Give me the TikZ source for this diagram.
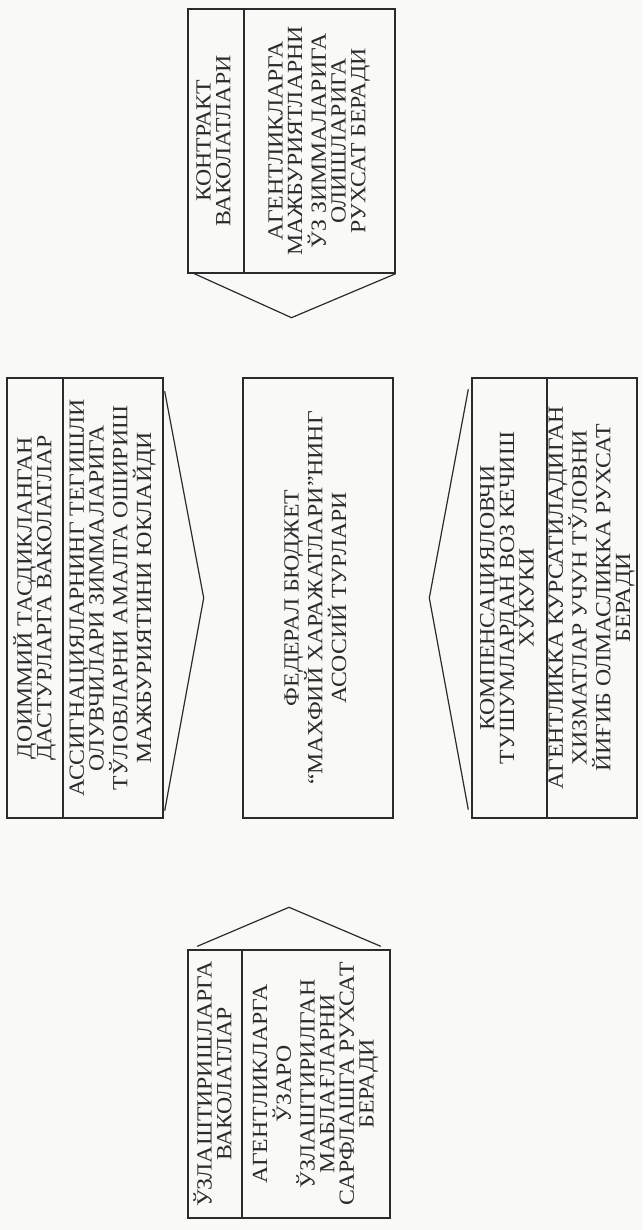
\documentclass[tikz,border=0pt]{standalone}
\usepackage{fontspec}
\setmainfont[FakeStretch=1.1]{Liberation Serif}
\usepackage{graphicx}
\usetikzlibrary{calc}
\definecolor{scanink}{HTML}{2B2B2B}
\definecolor{scanpaper}{HTML}{F9F9F8}

\newcommand{\vtext}[1]{\rotatebox{90}{\begin{tabular}{@{}c@{}}#1\end{tabular}}}

\begin{document}
\begin{tikzpicture}[x=0.5pt, y=0.5pt,
  cell/.style={draw=scanink, line width=0.7pt, inner sep=0pt, text=scanink,
    font=\fontsize{10.8}{9}\selectfont},
  chev/.style={draw=scanink, line width=0.6pt}]
  \fill[scanpaper] (0,0) rectangle (643,1230);
  \useasboundingbox (0,0) rectangle (643,1230);

  % top block
  \node[cell, minimum width=28pt, minimum height=132pt] (kontr1) at (216,1089) {\vtext{КОНТРАКТ\\ВАКОЛАТЛАРИ}};
  \node[cell, minimum width=75.5pt, minimum height=132pt] (kontr2) at (319.5,1089) {\vtext{АГЕНТЛИКЛАРГА\\МАЖБУРИЯТЛАРНИ\\ЎЗ ЗИММАЛАРИГА\\ОЛИШЛАРИГА\\РУХСАТ БЕРАДИ}};

  % middle row
  \node[cell, minimum width=28pt, minimum height=220pt] (doim1) at (35,632) {\vtext{ДОИММИЙ ТАСДИКЛАНГАН\\ДАСТУРЛАРГА ВАКОЛАТЛАР}};
  \node[cell, minimum width=50pt, minimum height=220pt] (doim2) at (113,632) {\vtext{АССИГНАЦИЯЛАРНИНГ ТЕГИШЛИ\\ОЛУВЧИЛАРИ ЗИММАЛАРИГА\\ТЎЛОВЛАРНИ АМАЛГА ОШИРИШ\\МАЖБУРИЯТИНИ ЮКЛАЙДИ}};
  \node[cell, minimum width=75pt, minimum height=220pt] (fed) at (318,632) {\vtext{ФЕДЕРАЛ БЮДЖЕТ\\“МАХФИЙ ХАРАЖАТЛАРИ”НИНГ\\АСОСИЙ ТУРЛАРИ}};
  \node[cell, minimum width=37.5pt, minimum height=220pt] (komp1) at (509.5,632) {\vtext{КОМПЕНСАЦИЯЛОВЧИ\\ТУШУМЛАРДАН ВОЗ КЕЧИШ\\ХУКУКИ}};
  \node[cell, minimum width=45pt, minimum height=220pt] (komp2) at (592,632) {\vtext{АГЕНТЛИККА КУРСАТИЛАДИГАН\\ХИЗМАТЛАР УЧУН ТЎЛОВНИ\\ЙИҒИБ ОЛМАСЛИККА РУХСАТ\\БЕРАДИ}};

  % bottom block
  \node[cell, minimum width=27pt, minimum height=134pt] (uzl1) at (215,146) {\vtext{ЎЗЛАШТИРИШЛАРГА\\ВАКОЛАТЛАР}};
  \node[cell, minimum width=74pt, minimum height=134pt] (uzl2) at (316,146) {\vtext{АГЕНТЛИКЛАРГА\\ЎЗАРО\\ЎЗЛАШТИРИЛГАН\\МАБЛАҒЛАРНИ\\САРФЛАШГА РУХСАТ\\БЕРАДИ}};

  % chevrons pointing at the centre box
  \draw[chev] ($(kontr1.south west)+(7,0)$) -- ($(kontr1.south west)!0.5!(kontr2.south east)+(0,-44)$) -- (kontr2.south east);
  \draw[chev] ($(doim2.north east)+(1,-14)$) -- ($(doim2.east)+(40,0)$) -- ($(doim2.south east)+(1,8)$);
  \draw[chev] ($(komp1.north west)+(-3,-12)$) -- ($(komp1.west)+(-42,0)$) -- ($(komp1.south west)+(-3,9)$);
  \draw[chev] ($(uzl1.north west)+(10,3)$) -- ($(uzl1.north west)!0.5!(uzl2.north east)+(0,42)$) -- ($(uzl2.north east)+(-10,3)$);
\end{tikzpicture}
\end{document}
